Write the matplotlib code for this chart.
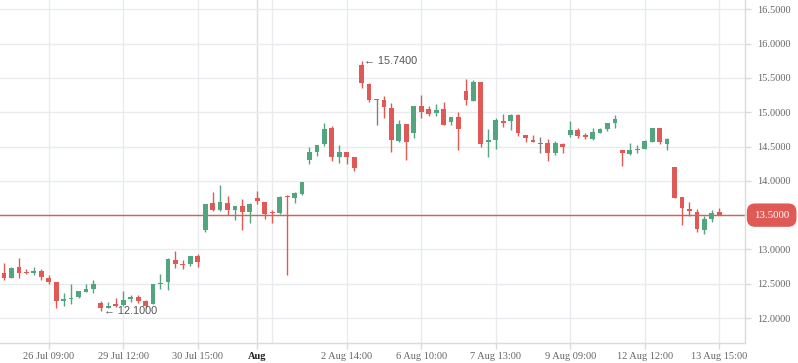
"""
캔들스틱 차트 재현 (26 Jul ~ 13 Aug).
"""
import matplotlib
matplotlib.use("Agg")
import matplotlib.pyplot as plt

# OHLC 데이터
opens = [12.66, 12.58, 12.74, 12.67, 12.65, 12.69, 12.58, 12.53, 12.25, 12.27,
         12.31, 12.38, 12.42, 12.22, 12.15, 12.20, 12.19, 12.27, 12.31, 12.25,
         12.21, 12.50, 12.52, 12.85, 12.79, 12.79, 12.90, 13.29, 13.67, 13.57,
         13.67, 13.57, 13.63, 13.55, 13.75, 13.69, 13.545, 13.53, 13.78, 13.75,
         13.81, 14.31, 14.42, 14.54, 14.77, 14.34, 14.42, 14.35, 15.69, 15.41,
         15.18, 15.18, 15.06, 14.58, 14.83, 14.70, 15.09, 15.05, 14.99, 15.05,
         14.86, 14.93, 15.31, 15.17, 15.44, 14.56, 14.60, 14.87, 14.87, 14.96,
         14.67, 14.60, 14.55, 14.55, 14.41, 14.53, 14.67, 14.74, 14.67, 14.61,
         14.70, 14.75, 14.85, 14.45, 14.39, 14.45, 14.47, 14.57, 14.77, 14.54,
         14.20, 13.76, 13.59, 13.545, 13.29, 13.45, 13.545]
highs = [12.80, 12.74, 12.88, 12.71, 12.74, 12.71, 12.63, 12.53, 12.37, 12.50,
         12.39, 12.50, 12.55, 12.25, 12.23, 12.29, 12.39, 12.34, 12.33, 12.26,
         12.50, 12.64, 12.88, 12.98, 12.85, 12.90, 12.93, 13.66, 13.84, 13.94,
         13.78, 13.63, 13.74, 13.68, 13.85, 13.69, 13.57, 13.78, 13.79, 13.84,
         13.99, 14.50, 14.52, 14.84, 14.80, 14.52, 14.42, 14.35, 15.74, 15.43,
         15.20, 15.24, 15.13, 14.89, 14.83, 15.09, 15.25, 15.09, 15.12, 15.15,
         14.93, 15.00, 15.48, 15.47, 15.44, 14.75, 14.91, 14.98, 14.98, 14.98,
         14.67, 14.67, 14.64, 14.61, 14.58, 14.55, 14.87, 14.77, 14.70, 14.77,
         14.77, 14.84, 14.96, 14.45, 14.55, 14.52, 14.60, 14.77, 14.77, 14.62,
         14.20, 13.76, 13.69, 13.59, 13.49, 13.57, 13.60]
lows = [12.56, 12.58, 12.59, 12.64, 12.63, 12.56, 12.50, 12.14, 12.18, 12.20,
        12.29, 12.38, 12.37, 12.10, 12.14, 12.16, 12.17, 12.23, 12.22, 12.15,
        12.20, 12.42, 12.41, 12.73, 12.71, 12.76, 12.74, 13.26, 13.56, 13.56,
        13.50, 13.43, 13.28, 13.39, 13.66, 13.45, 13.39, 13.52, 12.63, 13.67,
        13.79, 14.24, 14.36, 14.51, 14.29, 14.26, 14.25, 14.15, 15.36, 15.15,
        14.81, 14.91, 14.42, 14.56, 14.30, 14.62, 14.91, 14.95, 14.95, 14.82,
        14.82, 14.45, 15.11, 15.17, 14.50, 14.34, 14.47, 14.79, 14.74, 14.66,
        14.56, 14.56, 14.40, 14.29, 14.37, 14.40, 14.64, 14.63, 14.61, 14.59,
        14.70, 14.72, 14.77, 14.21, 14.38, 14.41, 14.47, 14.57, 14.53, 14.45,
        13.75, 13.36, 13.48, 13.26, 13.23, 13.40, 13.50]
closes = [12.58, 12.73, 12.66, 12.66, 12.68, 12.60, 12.53, 12.25, 12.27, 12.29,
          12.39, 12.42, 12.50, 12.14, 12.18, 12.175, 12.26, 12.31, 12.25, 12.17,
          12.50, 12.51, 12.86, 12.79, 12.78, 12.90, 12.81, 13.66, 13.57, 13.69,
          13.57, 13.63, 13.55, 13.66, 13.70, 13.52, 13.53, 13.76, 13.76, 13.82,
          13.98, 14.42, 14.52, 14.76, 14.34, 14.42, 14.35, 14.18, 15.43, 15.18,
          15.18, 15.07, 14.59, 14.83, 14.57, 15.09, 15.01, 14.97, 15.03, 14.82,
          14.93, 14.76, 15.18, 15.44, 14.53, 14.60, 14.88, 14.85, 14.96, 14.69,
          14.63, 14.56, 14.55, 14.40, 14.55, 14.50, 14.74, 14.66, 14.64, 14.71,
          14.75, 14.84, 14.90, 14.41, 14.45, 14.46, 14.58, 14.77, 14.56, 14.61,
          13.75, 13.61, 13.555, 13.30, 13.45, 13.53, 13.50]

# x축 라벨 (캔들 인덱스 기준)
tick_pos = [6, 16, 26, 34, 46, 56, 66, 76, 86, 96]
tick_labels = ["26 Jul 09:00", "29 Jul 12:00", "30 Jul 15:00", "Aug",
               "2 Aug 14:00", "6 Aug 10:00", "7 Aug 13:00", "9 Aug 09:00",
               "12 Aug 12:00", "13 Aug 15:00"]
extra_grid = [36]
y_ticks = [12.0, 12.5, 13.0, 13.5, 14.0, 14.5, 15.0, 15.5, 16.0, 16.5]

UP = "#53a57f"
DOWN = "#e05a55"
FLAT = "#808080"
GRID = "#e9ebee"
TXT = "#666666"

fig = plt.figure(figsize=(7.98, 3.63), dpi=100)
ax = fig.add_axes([0.0, 0.0559, 0.9336, 0.9441])

for x in tick_pos + extra_grid:
    ax.axvline(x, color="#dcdee2" if x == 34 else GRID, lw=1, zorder=0)
for y in y_ticks:
    ax.axhline(y, color=GRID, lw=1, zorder=0)

min_h = 0.015
for i, (o, h, l, c) in enumerate(zip(opens, highs, lows, closes)):
    col = UP if c > o else (DOWN if c < o else FLAT)
    ax.vlines(i, l, h, color=col, lw=1, zorder=2)
    lo, hi = min(o, c), max(o, c)
    if hi - lo < min_h:
        mid = (hi + lo) / 2
        lo, hi = mid - min_h / 2, mid + min_h / 2
    ax.bar(i, hi - lo, bottom=lo, width=0.64, color=col, lw=0, zorder=3)

# 최고/최저 표시
i_hi = max(range(len(highs)), key=lambda k: highs[k])
i_lo = min(range(len(lows)), key=lambda k: lows[k])
for xi, yv in [(i_hi, highs[i_hi]), (i_lo, lows[i_lo])]:
    ax.annotate(f"\u2190 {yv:.4f}", xy=(xi, yv), xytext=(2, 0),
                textcoords="offset points", va="center", ha="left",
                fontsize=7.8, color="#555555", family="Liberation Sans")

# 현재가 라인 + 라벨
last = closes[-1]
last_col = DOWN if last < opens[-1] else UP
ax.axhline(last, color=last_col, lw=1, zorder=1)
ax.annotate(f"{last:.4f}", xy=(1.0, last), xycoords=("axes fraction", "data"),
            xytext=(6.5, 0), textcoords="offset points", va="center", ha="left",
            fontsize=7.8, color="white", family="Liberation Serif",
            bbox=dict(boxstyle="round,pad=0.6,rounding_size=0.7",
                      fc=last_col, ec=last_col),
            annotation_clip=False, zorder=5)

ax.set_xlim(-0.54, 99.46)
ax.set_ylim(11.64, 16.636)

ax.set_xticks(tick_pos)
ax.set_xticklabels(tick_labels, fontsize=7.5, color=TXT, family="Liberation Serif")
for lab in ax.get_xticklabels():
    if lab.get_text() == "Aug":
        lab.set_fontweight("bold")
        lab.set_color("#222222")

ax.yaxis.tick_right()
ax.set_yticks(y_ticks)
# 현재가 라벨이 가리는 눈금 라벨은 비움
ax.set_yticklabels(["" if v == last else f"{v:.4f}" for v in y_ticks],
                   fontsize=7.5, color=TXT, family="Liberation Serif")
ax.tick_params(axis="both", length=4, color="#d9dbde", width=1)
ax.tick_params(axis="x", pad=3)
ax.tick_params(axis="y", pad=5)

for s in ["top", "left"]:
    ax.spines[s].set_visible(False)
for s in ["right", "bottom"]:
    ax.spines[s].set_color("#d9dbde")
    ax.spines[s].set_linewidth(1)

fig.savefig("out.png", dpi=100)
